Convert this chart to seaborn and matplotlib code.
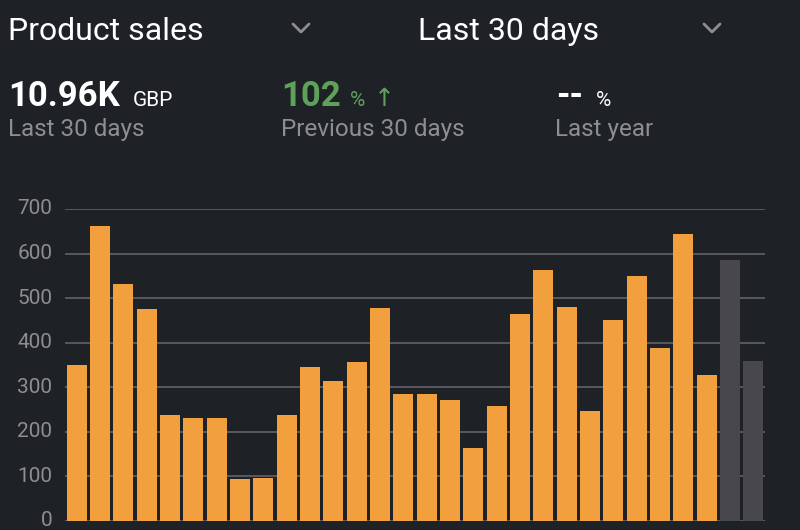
import pandas as pd
import matplotlib.pyplot as plt
import seaborn as sns
from matplotlib.lines import Line2D

# daily sales, last 30 days (GBP) - last two days still pending
days = list(range(1, 31))
sales = [350, 662, 531, 475, 237, 232, 230, 95, 97, 237,
         345, 313, 356, 478, 286, 286, 271, 164, 259, 464,
         563, 480, 247, 452, 550, 389, 644, 328, 585, 360]
status = ['final'] * 28 + ['pending'] * 2
y_ticks = [0, 100, 200, 300, 400, 500, 600, 700]

bg = '#1e2126'
orange = '#f2a03d'
grey_bar = '#48484c'
grid_col = '#66686d'
label_col = '#8d8e93'
green = '#5fa15a'

sns.set_theme(style='dark')
plt.rcParams['font.family'] = ['Roboto', 'DejaVu Sans']

df = pd.DataFrame({'day': days, 'sales': sales, 'status': status})

fig = plt.figure(figsize=(8, 5.3), dpi=100, facecolor=bg)
ax = fig.add_axes([65 / 800, 9 / 530, 700 / 800, 312 / 530])
ax.set_facecolor(bg)

# gridlines behind bars
for t in y_ticks:
    ax.axhline(t, color=grid_col, lw=1.1, zorder=0)

sns.barplot(data=df, x='day', y='sales', hue='status', dodge=False,
            palette={'final': orange, 'pending': grey_bar}, saturation=1,
            width=0.86, legend=False, ax=ax, zorder=2, linewidth=0)

ax.set_xlim(-0.5, 29.5)
ax.set_ylim(0, 700)
ax.set_yticks(y_ticks)
ax.set_yticklabels([str(t) for t in y_ticks], color=label_col, fontsize=15)
ax.tick_params(axis='y', length=0, pad=9)
ax.set_xticks([])
ax.set_xlabel('')
ax.set_ylabel('')
ax.grid(False)
for s in ax.spines.values():
    s.set_visible(False)
for lab in ax.get_yticklabels():
    lab.set_verticalalignment('center')

# header
def ftext(x, y, s, **kw):
    fig.text(x / 800, 1 - y / 530, s, va='baseline', ha='left', **kw)

ftext(8, 40, 'Product sales', color='white', fontsize=23)
ftext(418, 40, 'Last 30 days', color='white', fontsize=23)

# dropdown chevrons
for cx in (301, 712):
    fig.add_artist(Line2D([(cx - 8) / 800, cx / 800, (cx + 8) / 800],
                          [1 - 24 / 530, 1 - 32 / 530, 1 - 24 / 530],
                          transform=fig.transFigure, color='#8d8e93', lw=2))

ftext(8, 106, '10.96K', color='white', fontsize=25, fontweight='bold')
ftext(133, 106, 'GBP', color='white', fontsize=15)
ftext(8, 136, 'Last 30 days', color=label_col, fontsize=17.5)

ftext(281, 106, '102', color=green, fontsize=25, fontweight='bold')
ftext(350, 106, '%', color=green, fontsize=15)
ftext(374, 106, '\u2191', color=green, fontsize=18, family=['DejaVu Sans'])
ftext(281, 136, 'Previous 30 days', color=label_col, fontsize=17.5)

ftext(556, 106, '--', color='white', fontsize=25, fontweight='bold')
ftext(596, 106, '%', color='white', fontsize=15)
ftext(555, 136, 'Last year', color=label_col, fontsize=17.5)

fig.savefig('out.png', dpi=100, facecolor=bg)
